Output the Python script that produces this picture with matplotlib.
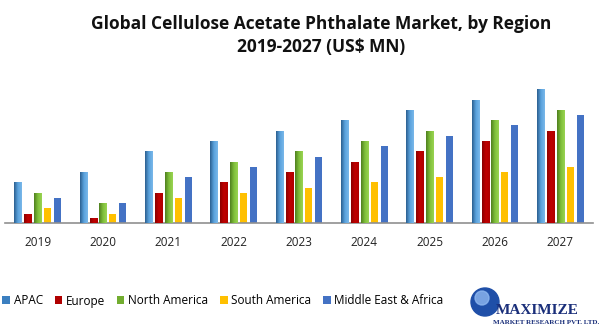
import numpy as np
import matplotlib.pyplot as plt
from matplotlib.colors import LinearSegmentedColormap
from matplotlib.patches import Circle

years = ['2019', '2020', '2021', '2022', '2023', '2024', '2025', '2026', '2027']
regions = ['APAC', 'Europe', 'North America', 'South America', 'Middle East & Africa']

apac = [41, 51, 72, 82, 92, 103, 113, 123, 134]
europe = [9, 5, 30, 41, 51, 61, 72, 82, 92]
north_america = [30, 20, 51, 61, 72, 82, 92, 103, 113]
south_america = [15, 9, 25, 30, 35, 41, 46, 51, 56]
mea = [25, 20, 46, 56, 66, 77, 87, 98, 108]

series = [apac, europe, north_america, south_america, mea]
colors = ['#3b7fc0', '#b00000', '#72ad2f', '#ffc000', '#4472c4']
# left->right gradients for the shaded series
grads = {
    0: ['#2b5f8f', '#5aa2dd', '#7ab8ea'],
    1: ['#8a0000', '#c00000', '#b00000'],
    2: ['#4f7f1f', '#7fbf3a', '#9ad452'],
}

fig = plt.figure(figsize=(6.0, 3.31), dpi=100)
ax = fig.add_axes([5/600, 1 - 223/331, 588/600, 143/331])

x = np.arange(len(years))
step = 0.151
width = 0.108
for i, vals in enumerate(series):
    pos = x + (i - 2) * step
    bars = ax.bar(pos, vals, width, color=colors[i], label=regions[i], zorder=2)
    if i in grads:
        cmap = LinearSegmentedColormap.from_list('g%d' % i, grads[i])
        grad = np.linspace(0, 1, 64).reshape(1, -1)
        for b in bars:
            im = ax.imshow(grad, cmap=cmap, aspect='auto', zorder=3,
                           extent=[b.get_x(), b.get_x() + b.get_width(), 0, b.get_height()])
            im.set_clip_path(b)

ax.set_xlim(-0.5, len(years) - 0.5)
ax.set_ylim(0, 143)
ax.set_xticks(x)
ax.set_xticklabels(years, fontsize=8.5, color='#222222', family='Open Sans')
ax.tick_params(axis='x', length=0, pad=9)
ax.set_yticks([])
for s in ['top', 'right', 'left']:
    ax.spines[s].set_visible(False)
ax.spines['bottom'].set_color('#909090')
ax.spines['bottom'].set_linewidth(1.2)

fig.text(0.535, 0.955, 'Global Cellulose Acetate Phthalate Market, by Region\n2019-2027 (US$ MN)',
         ha='center', va='top', fontsize=12.5, fontweight='bold', family='Open Sans',
         linespacing=1.35, color='#111111')

leg = fig.legend(loc='center left', bbox_to_anchor=(0.0, 1 - 301/331), ncol=5, frameon=False,
                 handlelength=0.65, handleheight=0.65, handletextpad=0.3,
                 columnspacing=1.0, borderpad=0.0, borderaxespad=0.2,
                 prop={'family': 'Open Sans', 'size': 8.5})

# logo
logo = fig.add_axes([440/600, 0, 160/600, 56/331])
logo.set_xlim(440, 600)
logo.set_ylim(331, 275)
logo.axis('off')
logo.add_patch(Circle((485, 302), 14, color='#1f4fa8'))
logo.add_patch(Circle((482, 298), 7, color='#8fb8f0', alpha=0.8))
logo.text(496, 311, 'MAXIMIZE', fontsize=11, family='Liberation Serif', color='#1a2f7a',
          ha='left', va='center', fontweight='bold')
logo.text(493, 323, 'MARKET RESEARCH PVT. LTD.', fontsize=5, family='Liberation Serif',
          color='#1a2f7a', ha='left', va='center', fontweight='bold')

fig.savefig('out.png', dpi=100)
